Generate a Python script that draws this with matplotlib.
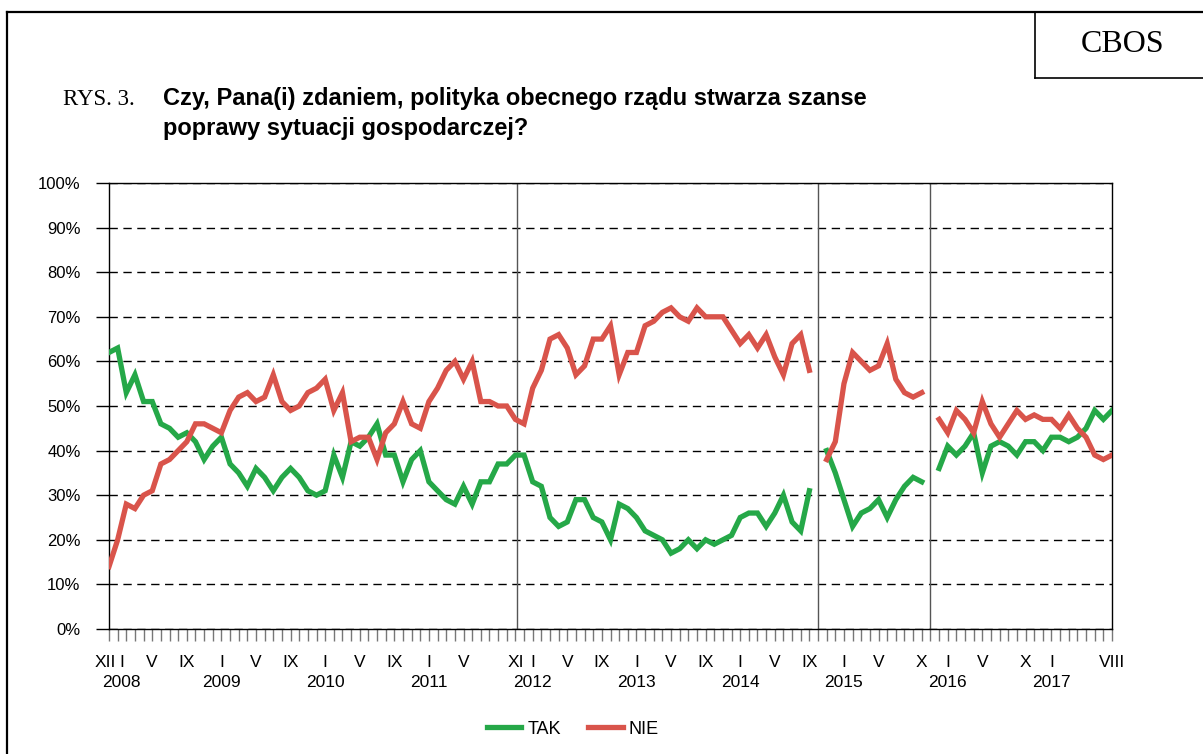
import matplotlib
matplotlib.use("Agg")
import matplotlib.pyplot as plt
import numpy as np
from matplotlib.lines import Line2D
from matplotlib.transforms import blended_transform_factory, ScaledTranslation

# monthly CBOS readings, XII 2007 - VIII 2017 (one category per month)
# blank months at the government changes (X 2014, XI 2015)
tak_tusk1 = [62, 63, 53, 57, 51, 51, 46, 45, 43, 44, 42, 38, 41, 43, 37, 35, 32, 36, 34, 31,
             34, 36, 34, 31, 30, 31, 39, 34, 42, 41, 43, 46, 39, 39, 33, 38, 40, 33, 31, 29,
             28, 32, 28, 33, 33, 37, 37, 39]
nie_tusk1 = [14, 20, 28, 27, 30, 31, 37, 38, 40, 42, 46, 46, 45, 44, 49, 52, 53, 51, 52, 57,
             51, 49, 50, 53, 54, 56, 49, 53, 42, 43, 43, 38, 44, 46, 51, 46, 45, 51, 54, 58,
             60, 56, 60, 51, 51, 50, 50, 47]
tak_tusk2 = [39, 33, 32, 25, 23, 24, 29, 29, 25, 24, 20, 28, 27, 25, 22, 21, 20, 17, 18, 20,
             18, 20, 19, 20, 21, 25, 26, 26, 23, 26, 30, 24, 22, 31]
nie_tusk2 = [46, 54, 58, 65, 66, 63, 57, 59, 65, 65, 68, 57, 62, 62, 68, 69, 71, 72, 70, 69,
             72, 70, 70, 70, 67, 64, 66, 63, 66, 61, 57, 64, 66, 58]
tak_kopacz = [40, 35, 29, 23, 26, 27, 29, 25, 29, 32, 34, 33]
nie_kopacz = [38, 42, 55, 62, 60, 58, 59, 64, 56, 53, 52, 53]
tak_szydlo = [36, 41, 39, 41, 44, 35, 41, 42, 41, 39, 42, 42, 40, 43, 43, 42, 43, 45, 49, 47, 49]
nie_szydlo = [47, 44, 49, 47, 44, 51, 46, 43, 46, 49, 47, 48, 47, 47, 45, 48, 45, 43, 39, 38, 39]

month_pos = [0, 1, 5, 9, 13, 17, 21, 25, 29, 33, 37, 41, 47, 49, 53, 57, 61, 65, 69, 73,
             77, 81, 85, 89, 94, 97, 101, 106, 109, 116]
month_lab = ['XII', 'I', 'V', 'IX', 'I', 'V', 'IX', 'I', 'V', 'IX', 'I', 'V', 'XI', 'I', 'V',
             'IX', 'I', 'V', 'IX', 'I', 'V', 'IX', 'I', 'V', 'X', 'I', 'V', 'X', 'I', 'VIII']
year_pos = [1.4, 13, 25, 37, 49, 61, 73, 85, 97, 109]
year_lab = ['2008', '2009', '2010', '2011', '2012', '2013', '2014', '2015', '2016', '2017']
separators = [47.2, 82, 95]

gap = [np.nan]
tak = np.array(tak_tusk1 + tak_tusk2 + gap + tak_kopacz + gap + tak_szydlo, dtype=float)
nie = np.array(nie_tusk1 + nie_tusk2 + gap + nie_kopacz + gap + nie_szydlo, dtype=float)
x = np.arange(len(tak))

plt.rcParams['font.family'] = ['Liberation Sans', 'DejaVu Sans']
W, H = 1203, 754
fig = plt.figure(figsize=(W / 100, H / 100), dpi=100)

def fx(px):
    return px / W

def fy(py):
    return 1 - py / H

# outer frame and the CBOS box
fig.add_artist(Line2D([fx(7), 1], [fy(12), fy(12)], color='black', lw=1.6))
fig.add_artist(Line2D([fx(7), fx(7)], [fy(12), 0], color='black', lw=1.6))
fig.add_artist(Line2D([fx(1035), fx(1035)], [fy(12), fy(78)], color='black', lw=1.2))
fig.add_artist(Line2D([fx(1035), 1], [fy(78), fy(78)], color='black', lw=1.2))
fig.text(fx(1123), fy(45), 'CBOS', family='Liberation Serif', fontsize=23,
         ha='center', va='center')

fig.text(fx(63), fy(105), 'RYS. 3.', family='Liberation Serif', fontsize=16.5, va='baseline')
fig.text(fx(163), fy(105), 'Czy, Pana(i) zdaniem, polityka obecnego rządu stwarza szanse',
         fontsize=17, fontweight='bold', va='baseline')
fig.text(fx(163), fy(135), 'poprawy sytuacji gospodarczej?',
         fontsize=17, fontweight='bold', va='baseline')

ax = fig.add_axes([fx(109), fy(629), (1112 - 109) / W, (629 - 183) / H])
ax.set_xlim(0, len(x) - 1)
ax.set_ylim(0, 100)

ax.set_yticks(range(0, 101, 10))
ax.set_yticklabels([f'{v}%' for v in range(0, 101, 10)], fontsize=12)
ax.yaxis.grid(True, color='black', lw=1, linestyle=(0, (6, 4)))
ax.set_axisbelow(True)
ax.tick_params(axis='y', direction='out', length=9.5, width=1, color='black', pad=11)

labels = [''] * len(x)
for p, l in zip(month_pos, month_lab):
    labels[p] = l
ax.set_xticks(x)
ax.set_xticklabels(labels, fontsize=12.5)
ax.tick_params(axis='x', direction='out', length=8.5, width=1, color='#777777', pad=10)
# nudge the two crowded first labels apart, as in the original
tl = ax.get_xticklabels()
tl[0].set_transform(tl[0].get_transform() + ScaledTranslation(-4 / 100, 0, fig.dpi_scale_trans))
tl[1].set_transform(tl[1].get_transform() + ScaledTranslation(4 / 100, 0, fig.dpi_scale_trans))

trans = blended_transform_factory(ax.transData, ax.transAxes)
for p, l in zip(year_pos, year_lab):
    ax.text(p, -0.119, l, transform=trans, ha='center', va='center', fontsize=12.5)

for s in separators:
    ax.axvline(s, color='#555555', lw=1, zorder=1)

for sp in ax.spines.values():
    sp.set_color('black')
    sp.set_linewidth(1)

ax.plot(x, tak, color='#25A848', lw=3.8, solid_joinstyle='miter', label='TAK', zorder=3)
ax.plot(x, nie, color='#D9544B', lw=3.8, solid_joinstyle='miter', label='NIE', zorder=3)

fig.legend(loc='center', bbox_to_anchor=(fx(573), fy(729)), ncol=2, frameon=False,
           fontsize=13, handlelength=1.9, handletextpad=0.35, columnspacing=1.5)

fig.savefig('out.png', dpi=100)
